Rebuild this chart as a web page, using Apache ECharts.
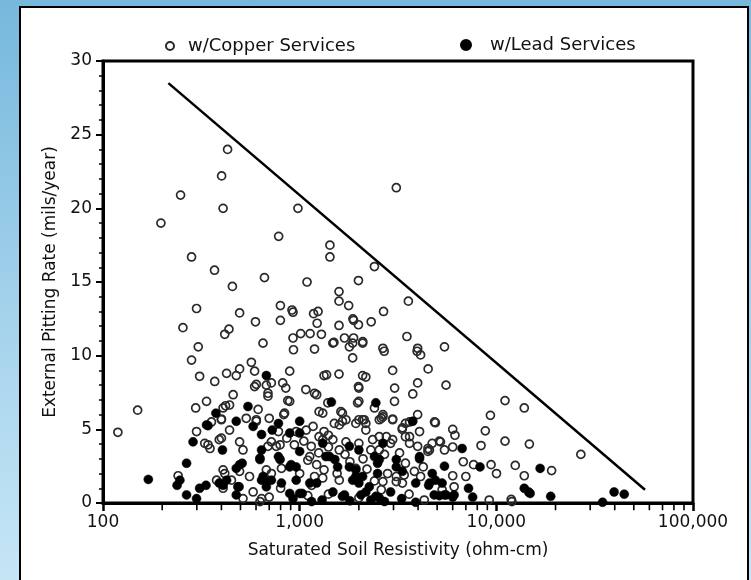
<!DOCTYPE html>
<html>
<head>
<meta charset="utf-8">
<script src="https://cdn.jsdelivr.net/npm/echarts@6/dist/echarts.min.js"></script>
<style>
  html, body { margin: 0; padding: 0; width: 751px; height: 580px; overflow: hidden; }
  body { background: linear-gradient(to bottom, #76b8dc 0%, #a5d3ec 55%, #c6e6f6 100%); position: relative; }
  #box { position: absolute; left: 19px; top: 6px; width: 730px; height: 590px; background: #fff; border: 2px solid #000; box-sizing: border-box; }
  #chart { position: absolute; left: 0; top: 0; width: 751px; height: 580px; }
</style>
</head>
<body>
<div id="box"></div>
<div id="chart"></div>
<script>
// ---- data (resistivity in ohm-cm, pitting rate in mils/year) ----
const copperX = [119,150,197,248,282,255,282,401,408,369,455,299,495,437,416,596,305,430,
  3100,980,782,1425,1425,2400,662,1090,1990,1585,1585,1775,3570,798,914,925,1240,1177,2670,798,1227,1866,1880,1990,2310,1585,3510,
  651,925,1012,1130,1290,1493,1690,1880,2094,2650,3980,5450,2690,3955,4120,2970,4500,3980,5550,
  11070,13870,9330,8790,6000,6160,5130,6000,8360,11070,14720,6790,7660,9400,10020,12480,19100,13870,6000,7000,6100,9200,11900,
  3760,3035,2650,2970,3980,4900,3450,3320,2540,2970,3620,3620,5200,26900,4490,4490,2650,3100,3400,4120,5300,12000,
  241,299,296,336,342,356,400,408,420,400,408,378,450,459,440,495,515,515,535,602,615,590,690,677,677,580,628,760,808,890,838,940,1145,
  1075,1220,1310,1930,1590,1650,1970,2000,2090,2170,2540,1475,1860,2090,1860,1330,1585,2090,1390,2000,2400,1620,1650,1590,2000,2170,2650,3330,4070,2350,2000,1720,1475,1310,
  3830,1330,1310,1590,3330,3450,4570,4250,3100,930,1190,568,495,425,370,590,890,718,820,602,1190,1370,870,1255,350,718,416,495,556,408,718,1190,1220,1125,1255,1170,640,
  1790,476,2170,310,690,850,1990,3040,440,400,602,700,830,329,390,690,795,860,780,960,1080,1330,1500,1720,1930,2130,2600,2970,3620,4850,
  2760,2900,3450,3980,4720,5450,2540,3220,700,1100,1400,2000,2600,3600,4300,800,1100,1250,1400,1550,1700,1800,2100,2200,2300,2700,2800,1000,1150,2400,1050,1400];
const copperY = [4.8,6.3,19.0,20.9,16.7,11.9,9.7,22.2,20.0,15.8,14.7,13.2,12.9,11.8,11.45,12.3,10.6,24.0,
  21.4,20.0,18.1,17.5,16.7,16.05,15.3,15.0,15.1,14.35,13.7,13.4,13.7,13.4,13.1,12.95,13.0,12.85,13.0,12.4,12.2,12.5,12.4,12.1,12.3,12.05,11.3,
  10.85,11.2,11.5,11.5,11.45,10.9,11.2,11.2,10.95,10.5,10.5,10.6,10.3,10.3,10.05,9.0,9.1,8.15,8.0,
  6.95,6.45,5.95,4.9,5.0,4.6,4.2,3.8,3.9,4.2,4.0,2.8,2.6,2.6,2.0,2.55,2.2,1.85,1.85,1.8,1.1,0.2,0.25,
  7.4,6.9,6.0,5.7,6.0,5.45,5.4,5.0,4.5,4.3,4.5,4.05,4.15,3.3,3.7,3.5,1.45,1.45,1.9,1.8,0.9,0.1,
  1.85,4.85,6.45,6.9,3.95,5.5,5.7,6.45,6.6,4.4,2.25,1.55,1.55,7.35,4.95,4.15,3.6,0.3,5.75,5.65,6.35,7.9,7.25,8.0,2.25,0.75,0.1,3.85,2.35,6.9,6.1,3.95,3.85,
  7.7,7.35,6.1,2.35,3.6,6.1,6.8,7.8,5.65,4.95,5.65,10.85,10.85,10.85,9.85,8.65,8.75,8.65,6.8,6.9,6.45,6.2,5.55,5.3,5.65,5.4,5.85,5.1,4.85,4.3,4.05,4.15,4.3,4.3,
  2.15,2.25,1.7,1.55,1.35,2.7,3.6,2.45,1.8,10.4,10.45,9.55,9.1,8.8,8.25,8.95,8.95,8.15,8.15,8.05,7.45,8.7,6.95,6.2,3.7,4.15,2.0,2.15,1.8,1.0,2.0,1.8,2.6,3.15,4.5,5.2,0.3,
  10.6,8.65,8.55,8.6,7.45,7.8,7.9,7.8,6.65,5.65,5.55,5.75,6.0,4.05,4.3,3.85,3.95,4.4,4.85,4.85,4.95,4.85,5.4,5.65,5.4,5.65,5.75,5.65,5.5,5.5,
  4.5,4.05,4.5,3.85,4.05,3.6,3.6,3.4,0.4,0.5,0.6,0.35,0.9,0.6,0.2,1.0,2.9,3.4,3.8,2.0,3.3,2.8,3.0,2.3,3.6,3.3,2.0,2.0,1.2,1.5,4.2,4.6];
const leadX = [170,246,238,266,266,299,310,334,287,342,375,405,408,425,476,476,510,492,476,546,580,640,640,628,652,677,725,780,795,808,718,
  890,905,1000,960,1000,1030,925,1125,1220,1310,1420,1510,1450,1475,1650,1930,2000,2170,2440,2400,2440,1790,2650,677,336,780,890,960,628,495,390,485,640,677,890,1000,1000,
  1360,1560,1790,2000,2490,2490,1930,1860,2090,2260,3100,3330,4070,2900,3890,4720,4570,5300,1690,2050,6700,8260,16700,5450,7220,13870,14600,18900,7580,5450,6000,
  3760,4070,2540,3100,4900,4530,4830,5550,6100,14850,34700,39700,44700,3890,5130,2540,1300,1800,2300,2700,3300,1150];
const leadY = [1.6,1.55,1.2,2.7,0.55,0.3,1.0,1.2,4.15,5.25,6.1,3.6,1.2,1.55,5.55,2.35,2.7,1.1,0.55,6.55,5.2,4.65,3.6,2.95,1.8,1.45,4.95,5.4,2.95,1.35,1.55,
  4.75,2.6,5.55,1.55,3.5,0.65,0.3,1.35,1.35,4.05,3.15,2.95,6.85,0.75,0.45,1.8,1.35,0.75,6.8,3.15,0.45,2.45,4.05,8.65,5.3,3.15,2.45,2.45,3.05,2.6,1.35,1.1,1.55,1.1,0.65,0.65,4.75,
  3.15,2.45,3.85,3.6,2.7,2.0,2.25,1.55,1.8,1.1,2.95,2.15,3.15,0.75,1.35,2.0,1.35,1.35,0.55,0.55,3.7,2.45,2.35,2.5,1.0,1.0,0.75,0.45,0.4,0.55,0.4,
  5.55,3.0,2.95,2.45,1.55,1.2,0.55,0.55,0.55,0.65,0.05,0.75,0.6,0.05,0.5,0.35,0.2,0.15,0.2,0.1,0.3,0.1];
// envelope line
const lineX = [215, 57000];
const lineY = [28.5, 0.9];
// axes
const xMin = 100, xMax = 100000;
const xMinorTicks = [200,300,400,500,600,700,800,900,2000,3000,4000,5000,6000,7000,8000,9000,20000,30000,40000,50000,60000,70000,80000,90000];
const yMin = 0, yMax = 30, yStep = 5;
const seriesNames = ['w/Copper Services', 'w/Lead Services'];
const xAxisName = 'Saturated Soil Resistivity (ohm-cm)';
const yAxisName = 'External Pitting Rate (mils/year)';

const zip = (a, b) => a.map((v, i) => [v, b[i]]);
const FONT = 'DejaVu Sans';
const chart = echarts.init(document.getElementById('chart'), null, { renderer: 'canvas' });
chart.setOption({
  animation: false,
  backgroundColor: 'transparent',
  textStyle: { fontFamily: FONT },
  grid: { left: 103, right: 58, top: 61, bottom: 77, show: true, borderColor: '#000', borderWidth: 3, backgroundColor: 'transparent' },
  legend: [
    { data: [seriesNames[0]], left: 160, top: 32, itemWidth: 8, itemHeight: 8,
      textStyle: { fontFamily: FONT, fontSize: 18, color: '#111', padding: [0, 0, 0, 9] } },
    { data: [seriesNames[1]], left: 455, top: 31, itemWidth: 10, itemHeight: 10,
      textStyle: { fontFamily: FONT, fontSize: 18, color: '#111', padding: [0, 0, 0, 14] } }
  ],
  xAxis: {
    type: 'log', logBase: 10, min: xMin, max: xMax, position: 'bottom',
    name: xAxisName, nameLocation: 'middle', nameGap: 39,
    nameTextStyle: { fontFamily: FONT, fontSize: 17, color: '#111' },
    axisLine: { show: true, lineStyle: { color: '#000', width: 3 } },
    axisTick: { show: true, inside: false, length: 8, lineStyle: { color: '#000', width: 2.5 } },
    axisLabel: { margin: 11, fontFamily: FONT, fontSize: 17, color: '#111',
      formatter: v => Number(v).toLocaleString('en-US') },
    splitLine: { show: false }, minorTick: { show: false }
  },
  yAxis: {
    type: 'value', min: yMin, max: yMax, interval: yStep,
    name: yAxisName, nameLocation: 'middle', nameGap: 42,
    nameTextStyle: { fontFamily: FONT, fontSize: 17, color: '#111' },
    axisLine: { show: true, lineStyle: { color: '#000', width: 3 } },
    axisTick: { show: true, inside: false, length: 7, lineStyle: { color: '#000', width: 2 } },
    minorTick: { show: true, splitNumber: 5, length: 4, lineStyle: { color: '#000', width: 1.5 } },
    axisLabel: { margin: 11, fontFamily: FONT, fontSize: 17, color: '#111' },
    splitLine: { show: false }
  },
  series: [
    { name: seriesNames[0], type: 'scatter', symbol: 'circle', symbolSize: 8,
      itemStyle: { color: 'rgba(255,255,255,0)', borderColor: '#2a2a2a', borderWidth: 1.7, opacity: 1 },
      data: zip(copperX, copperY), z: 3 },
    { name: seriesNames[1], type: 'scatter', symbol: 'circle', symbolSize: 9,
      itemStyle: { color: '#000', borderColor: '#000', borderWidth: 0.5, opacity: 1 },
      data: zip(leadX, leadY), z: 4 },
    { name: 'envelope', type: 'line', symbol: 'none', silent: true,
      lineStyle: { color: '#000', width: 2.5 }, data: zip(lineX, lineY), z: 5 },
    { name: 'minorTicks', type: 'scatter', silent: true, clip: false, z: 10,
      symbol: 'rect', symbolSize: [1.6, 5.5], symbolOffset: [0, 4.5],
      itemStyle: { color: '#000', opacity: 1 },
      data: xMinorTicks.map(v => [v, yMin]) }
  ]
});
</script>
</body>
</html>
